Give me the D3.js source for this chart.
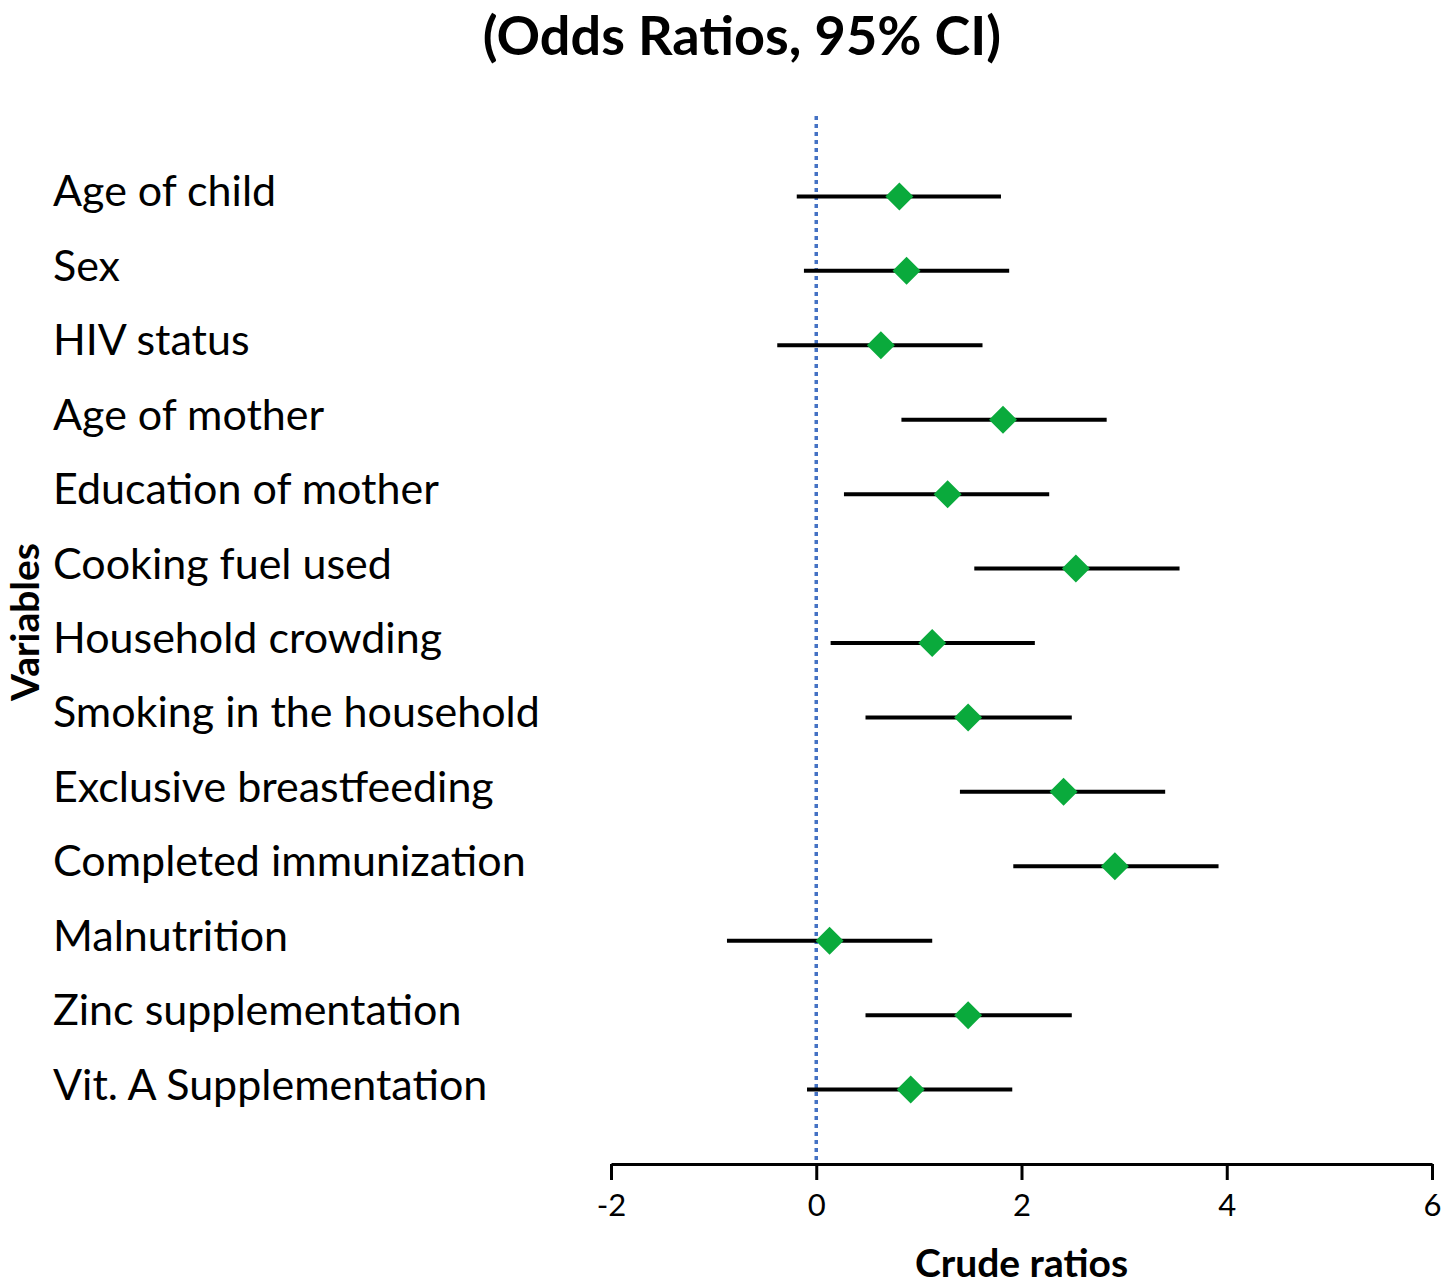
<!DOCTYPE html>
<html>
<head>
<meta charset="utf-8">
<script src="https://cdn.jsdelivr.net/npm/d3@7"></script>
<style>
  body { margin: 0; background: #fff; }
  svg { display: block; }
</style>
</head>
<body>
<svg id="chart" width="1442" height="1287"></svg>
<script>
// variables, top to bottom
const variables = [
    'Age of child', 'Sex', 'HIV status', 'Age of mother', 'Education of mother',
    'Cooking fuel used', 'Household crowding', 'Smoking in the household',
    'Exclusive breastfeeding', 'Completed immunization', 'Malnutrition',
    'Zinc supplementation', 'Vit. A Supplementation'
]
const estimate = [0.81, 0.88, 0.63, 1.82, 1.28, 2.53, 1.13, 1.48, 2.41, 2.91, 0.13, 1.48, 0.92]
const lower = [-0.19, -0.12, -0.38, 0.83, 0.27, 1.54, 0.14, 0.48, 1.40, 1.92, -0.87, 0.48, -0.09]
const upper = [1.80, 1.88, 1.62, 2.83, 2.27, 3.54, 2.13, 2.49, 3.40, 3.92, 1.13, 2.49, 1.91]
const xTicks = [-2, 0, 2, 4, 6]

const svg = d3.select('#chart')
const font = 'Lato, "Open Sans", sans-serif'

let x = d3.scaleLinear()
    .domain([-2, 6])
    .range([611, 1432])
// rows sit at 13 .. 1, axis at 0
let y = d3.scaleLinear()
    .domain([0, 14])
    .range([1164, 122])

let rows = variables.map((v, i) => ({
    name: v,
    pos: variables.length - i,
    est: estimate[i],
    lo: lower[i],
    hi: upper[i]
}))

// title
svg.append('text')
    .attr('x', 742)
    .attr('y', 55)
    .attr('text-anchor', 'middle')
    .attr('font-family', font)
    .attr('font-weight', 'bold')
    .attr('font-size', 54)
    .text('(Odds Ratios, 95% CI)')

// reference line at zero
svg.append('line')
    .attr('x1', x(0))
    .attr('x2', x(0))
    .attr('y1', 116)
    .attr('y2', y(0))
    .attr('stroke', '#4472c4')
    .attr('stroke-width', 3.5)
    .attr('stroke-dasharray', '4,4')

// x axis
let axis = svg.append('g')
    .attr('transform', 'translate(0,' + y(0) + ')')
    .call(d3.axisBottom(x)
        .tickValues(xTicks)
        .tickFormat(d => String(d))
        .tickSize(16)
        .tickPadding(14)
        .tickSizeOuter(0))
axis.select('.domain')
    .attr('stroke', '#000')
    .attr('stroke-width', 3)
axis.selectAll('.tick line')
    .attr('stroke', '#000')
    .attr('stroke-width', 3)
axis.selectAll('.tick text')
    .attr('font-family', font)
    .attr('font-size', 31)
    .attr('fill', '#000')

svg.append('text')
    .attr('x', x(2))
    .attr('y', 1277)
    .attr('text-anchor', 'middle')
    .attr('font-family', font)
    .attr('font-weight', 'bold')
    .attr('font-size', 39)
    .text('Crude ratios')

svg.append('text')
    .attr('transform', 'translate(39,622) rotate(-90)')
    .attr('text-anchor', 'middle')
    .attr('font-family', font)
    .attr('font-weight', 'bold')
    .attr('font-size', 39)
    .text('Variables')

// row labels
svg.selectAll('.label')
    .data(rows)
    .enter()
    .append('text')
    .attr('class', 'label')
    .attr('x', 53)
    .attr('y', d => y(d.pos) + 10)
    .attr('font-family', font)
    .attr('font-size', 43)
    .text(d => d.name)

// CI lines
svg.selectAll('.ci')
    .data(rows)
    .enter()
    .append('line')
    .attr('class', 'ci')
    .attr('x1', d => x(d.lo))
    .attr('x2', d => x(d.hi))
    .attr('y1', d => y(d.pos))
    .attr('y2', d => y(d.pos))
    .attr('stroke', '#000')
    .attr('stroke-width', 4)

// point estimates
svg.selectAll('.point')
    .data(rows)
    .enter()
    .append('path')
    .attr('class', 'point')
    .attr('d', 'M0,-14L14,0L0,14L-14,0Z')
    .attr('transform', d => 'translate(' + x(d.est) + ',' + y(d.pos) + ')')
    .attr('fill', '#0aaa3c')
</script>
</body>
</html>
